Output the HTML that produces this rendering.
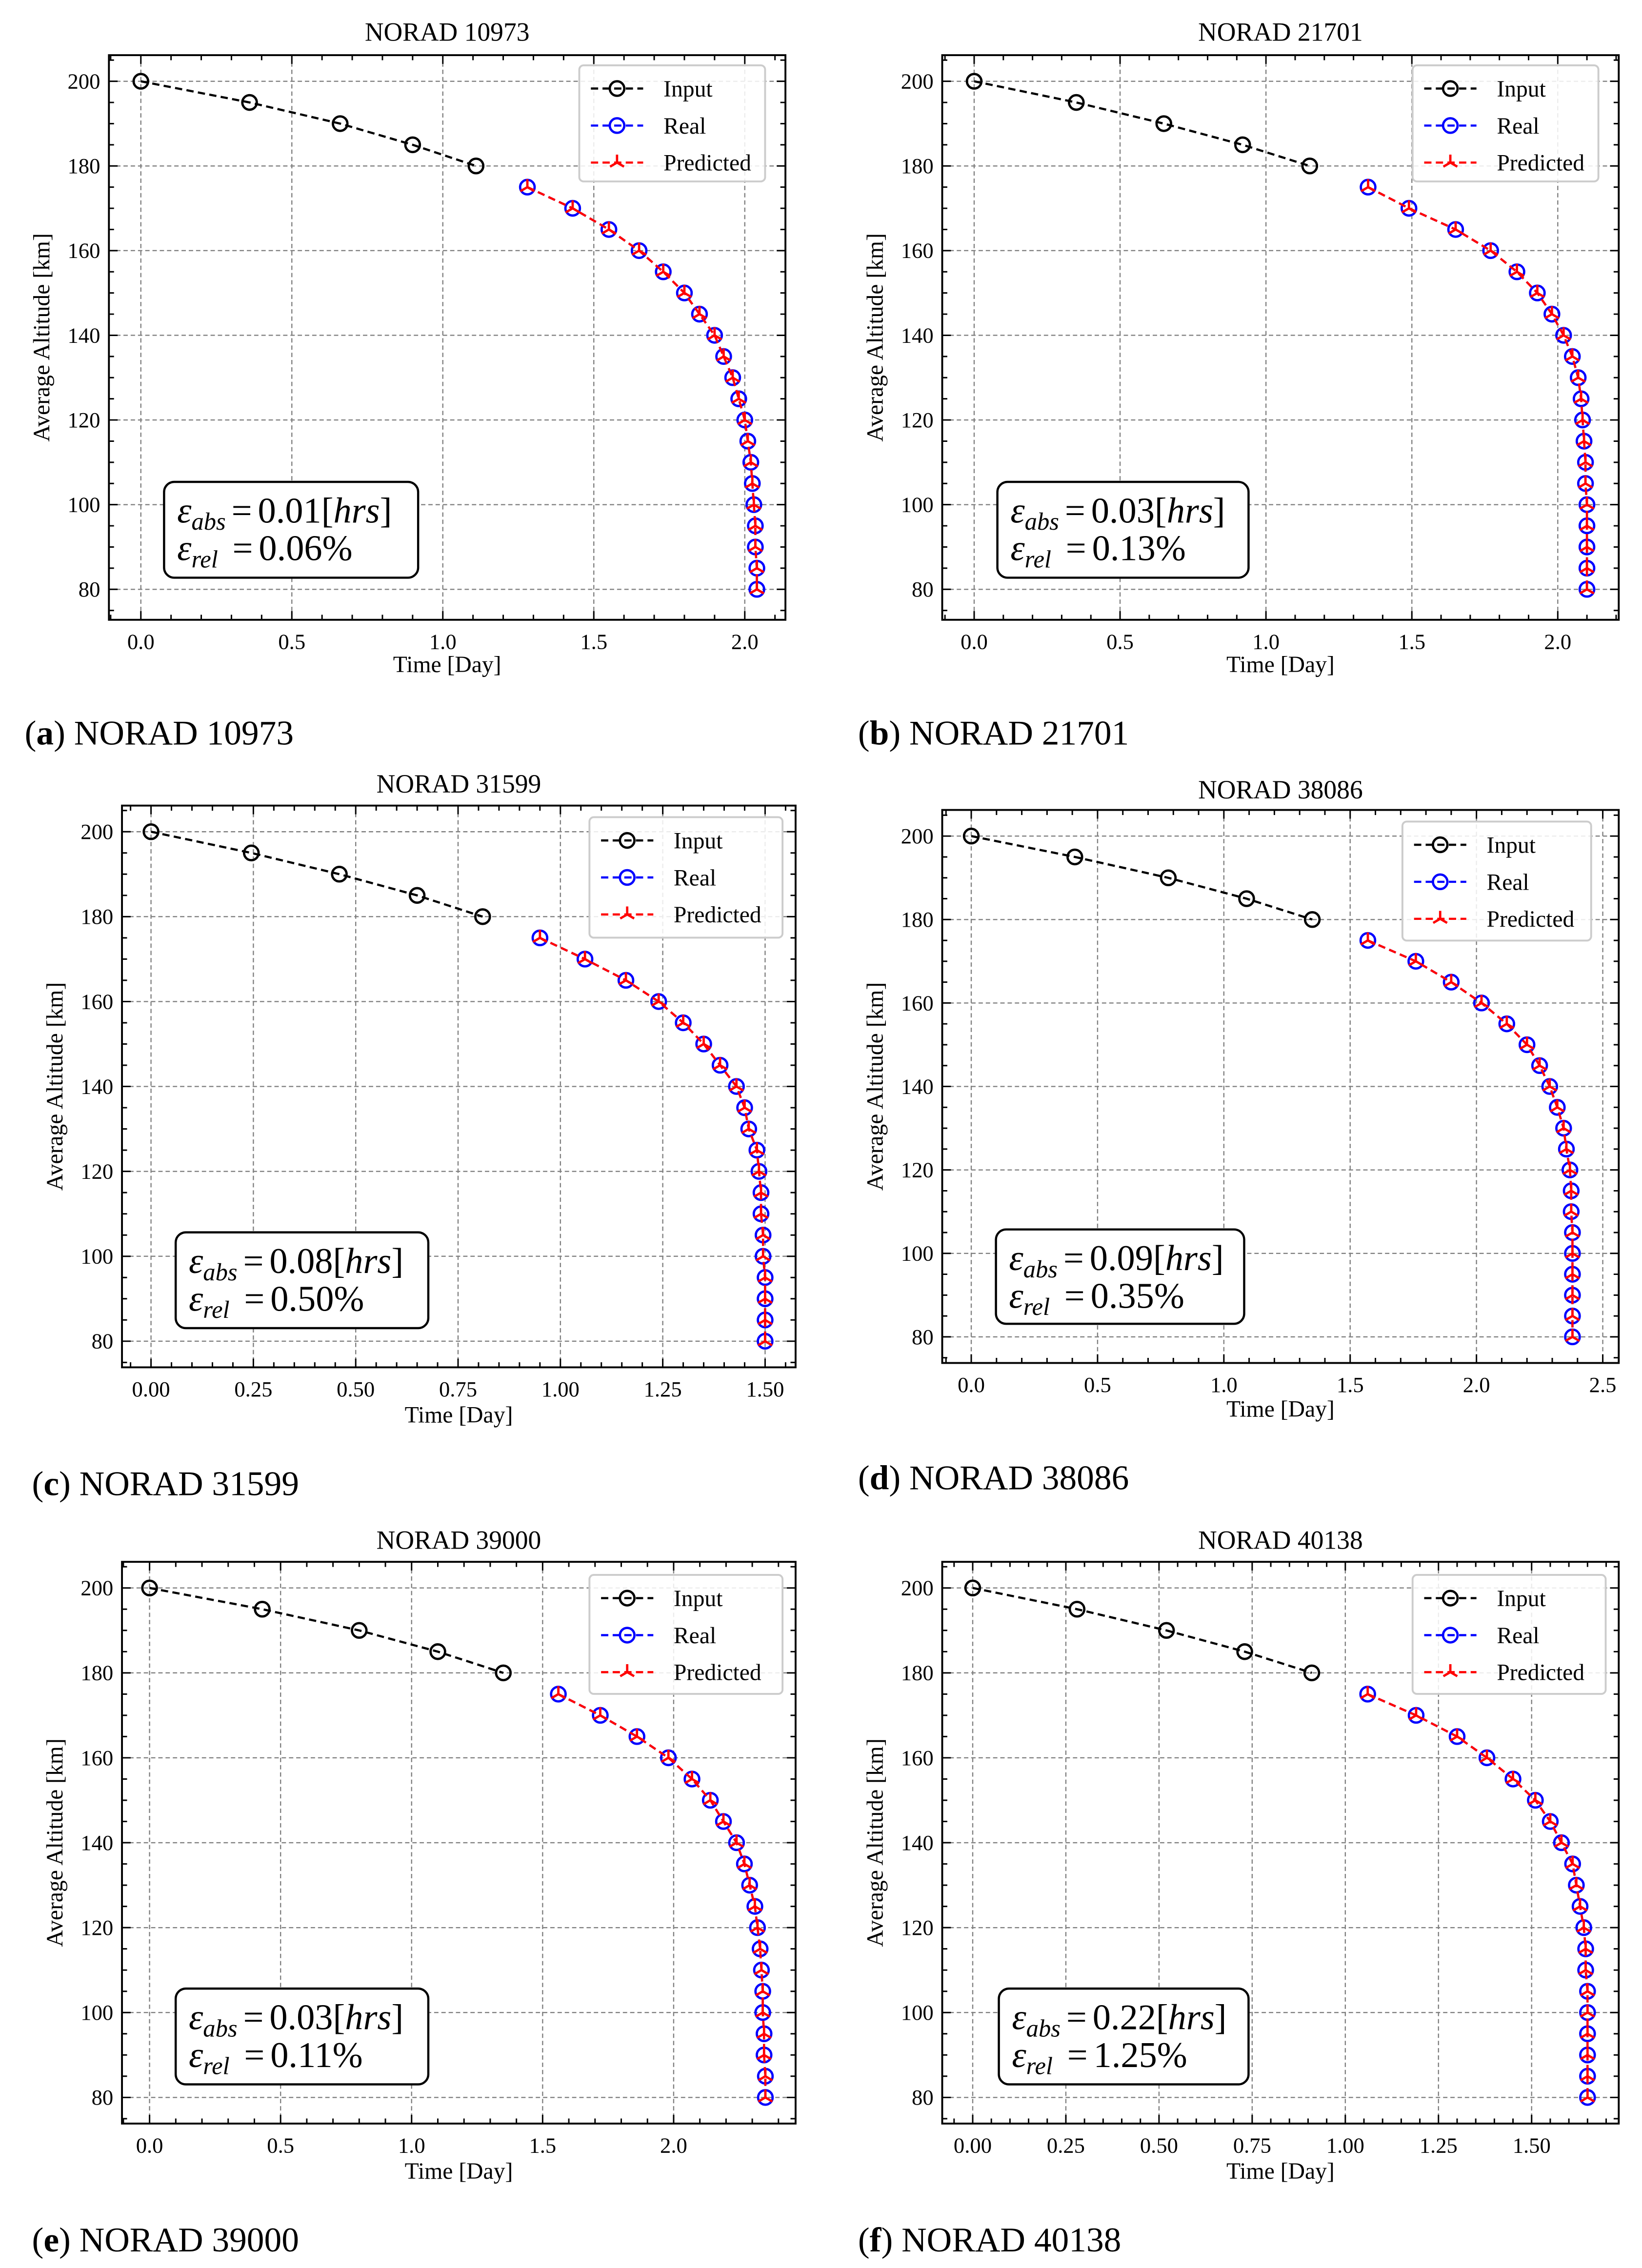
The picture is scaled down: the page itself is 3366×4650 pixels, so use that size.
<!DOCTYPE html>
<html><head><meta charset="utf-8">
<style>
html,body{margin:0;padding:0;background:#fff;}
svg{display:block;font-family:"Liberation Serif",serif;}
svg text{font-family:"Liberation Serif",serif;}
</style></head>
<body>
<svg id="fig" width="3366" height="4650" viewBox="0 0 1131 1562.5" xmlns="http://www.w3.org/2000/svg"></svg>
<script>
// ---- data ----
const inputAlt = [200,195,190,185,180];
const realAlt = [175,170,165,160,155,150,145,140,135,130,125,120,115,110,105,100,95,90,85,80];
const titles = ["NORAD 10973","NORAD 21701","NORAD 31599","NORAD 38086","NORAD 39000","NORAD 40138"];
const captionLetters = ["a","b","c","d","e","f"];
const inputT_a = [0,0.36,0.66,0.90,1.11];
const realT_a = [1.28,1.43,1.55,1.65,1.73,1.80,1.85,1.90,1.93,1.96,1.98,2.00,2.01,2.02,2.025,2.03,2.035,2.035,2.04,2.04];
const inputT_b = [0,0.35,0.65,0.92,1.15];
const realT_b = [1.35,1.49,1.65,1.77,1.86,1.93,1.98,2.02,2.05,2.07,2.08,2.085,2.09,2.095,2.095,2.10,2.10,2.10,2.10,2.10];
const inputT_c = [0,0.245,0.46,0.65,0.81];
const realT_c = [0.95,1.06,1.16,1.24,1.30,1.35,1.39,1.43,1.45,1.46,1.48,1.485,1.49,1.49,1.495,1.495,1.50,1.50,1.50,1.50];
const inputT_d = [0,0.41,0.78,1.09,1.35];
const realT_d = [1.57,1.76,1.90,2.02,2.12,2.20,2.25,2.29,2.32,2.345,2.356,2.37,2.375,2.375,2.38,2.38,2.38,2.38,2.38,2.38];
const inputT_e = [0,0.43,0.80,1.10,1.35];
const realT_e = [1.56,1.72,1.86,1.98,2.07,2.14,2.19,2.24,2.27,2.29,2.31,2.32,2.33,2.335,2.34,2.34,2.345,2.345,2.35,2.35];
const inputT_f = [0,0.28,0.52,0.73,0.91];
const realT_f = [1.06,1.19,1.30,1.38,1.45,1.51,1.55,1.58,1.61,1.62,1.63,1.64,1.645,1.645,1.65,1.65,1.65,1.65,1.65,1.65];
const xTicks_a = [0,0.5,1.0,1.5,2.0];
const xTickLabels_a = ["0.0","0.5","1.0","1.5","2.0"];
const xTicks_c = [0,0.25,0.5,0.75,1.0,1.25,1.5];
const xTickLabels_c = ["0.00","0.25","0.50","0.75","1.00","1.25","1.50"];
const xTicks_d = [0,0.5,1.0,1.5,2.0,2.5];
const xTickLabels_d = ["0.0","0.5","1.0","1.5","2.0","2.5"];
const yTicks = [80,100,120,140,160,180,200];
const errAbs = ["0.01","0.03","0.08","0.09","0.03","0.22"];
const errRel = ["0.06%","0.13%","0.50%","0.35%","0.11%","1.25%"];

// ---- layout (not data) ----
const panels = [
 {L:75,R:541,T:38,B:427,x0px:97,x1px:513,x1v:2.0,y200:56,y80:406,inT:inputT_a,reT:realT_a,xt:xTicks_a,xl:xTickLabels_a,minor:0.1,leg:[399,45,128,80],err:[113,332,175,66],title:22,xlab:458,cap:[17,513]},
 {L:649,R:1115,T:38,B:427,x0px:671,x1px:1073,x1v:2.0,y200:56,y80:406,inT:inputT_b,reT:realT_b,xt:xTicks_a,xl:xTickLabels_a,minor:0.1,leg:[973,45,128,80],err:[687,332,173,66],title:22,xlab:458,cap:[591,513]},
 {L:84,R:548,T:555,B:942,x0px:104,x1px:527,x1v:1.5,y200:573,y80:924,inT:inputT_c,reT:realT_c,xt:xTicks_c,xl:xTickLabels_c,minor:0.05,leg:[406,563,133,83],err:[121,849,174,66],title:540,xlab:975,cap:[22,1030]},
 {L:649,R:1115,T:558,B:939,x0px:669,x1px:1104,x1v:2.5,y200:576,y80:921,inT:inputT_d,reT:realT_d,xt:xTicks_d,xl:xTickLabels_d,minor:0.1,leg:[966,566,130,82],err:[686,847,171,65],title:544,xlab:971,cap:[591,1026]},
 {L:84,R:548,T:1076,B:1463,x0px:103,x1px:464,x1v:2.0,y200:1094,y80:1445,inT:inputT_e,reT:realT_e,xt:xTicks_a,xl:xTickLabels_a,minor:0.1,leg:[406,1085,133,82],err:[121,1370,174,66],title:1061,xlab:1496,cap:[22,1551]},
 {L:649,R:1115,T:1076,B:1463,x0px:670,x1px:1055,x1v:1.5,y200:1094,y80:1445,inT:inputT_f,reT:realT_f,xt:xTicks_c,xl:xTickLabels_c,minor:0.05,leg:[973,1085,133,82],err:[688,1370,172,66],title:1061,xlab:1496,cap:[591,1551]}
];
const NS="http://www.w3.org/2000/svg";
const svg=document.getElementById('fig');
function mk(tag,attrs,parent){const e=document.createElementNS(NS,tag);for(const k in attrs)e.setAttribute(k,attrs[k]);(parent||svg).appendChild(e);return e;}
// place a run of text pieces sequentially using separate <text> elements
function run(parent,x,y,pieces){
  let cx=x;
  pieces.forEach(pc=>{
    const a={x:cx,y:y+(pc.dy||0),'font-size':pc.size};
    if(pc.it)a['font-style']='italic';
    if(pc.b)a['font-weight']='bold';
    const t=mk('text',a,parent);t.textContent=pc.t;
    let w=0;try{w=t.getComputedTextLength();}catch(e){}
    if(!w)w=pc.t.length*pc.size*0.5;
    cx+=w+(pc.gap||0);
  });
}
function circ(g,x,y,c){return mk('circle',{cx:x,cy:y,r:5,fill:'none',stroke:c,'stroke-width':1.6},g);}
function tri(g,x,y){return mk('path',{d:`M${x} ${y}L${x} ${y-5.5}M${x} ${y}L${x-4.8} ${y+2.8}M${x} ${y}L${x+4.8} ${y+2.8}`,stroke:'#f00','stroke-width':1.6,fill:'none'},g);}

panels.forEach((p,i)=>{
  const g=mk('g',{});
  
  
  const sx=v=>p.x0px+(p.x1px-p.x0px)*v/p.x1v;
  const sy=v=>p.y80+(p.y200-p.y80)*(v-80)/120;
  const vmin=(p.L-p.x0px)/(p.x1px-p.x0px)*p.x1v, vmax=(p.R-p.x0px)/(p.x1px-p.x0px)*p.x1v;
  p.xt.forEach(v=>{const l=mk('line',{x1:sx(v),x2:sx(v),y1:p.T,y2:p.B,stroke:'#808080','stroke-width':0.8,'stroke-dasharray':'3,2'},g);});
  yTicks.forEach(v=>{const l=mk('line',{x1:p.L,x2:p.R,y1:sy(v),y2:sy(v),stroke:'#808080','stroke-width':0.8,'stroke-dasharray':'3,2'},g);});
  let tk='';
  for(let v=Math.ceil(vmin/p.minor-1e-6)*p.minor; v<=vmax+1e-9; v+=p.minor){
    const x=sx(v); const major=p.xt.some(t=>Math.abs(t-v)<1e-6); const len=major?6:3.5;
    tk+=`M${x} ${p.B}v${-len}M${x} ${p.T}v${len}`;
  }
  for(let v=75; v<=205; v+=5){
    const y=sy(v); if(y<p.T||y>p.B) continue; const len=(v%20===0)?6:3.5;
    tk+=`M${p.L} ${y}h${len}M${p.R} ${y}h${-len}`;
  }
  const ticks=mk('path',{d:tk,stroke:'#000','stroke-width':1,fill:'none'},g);
  
  p.xt.forEach((v,j)=>{const t=mk('text',{x:sx(v),y:p.B+20,'font-size':15,'text-anchor':'middle'},g);t.textContent=p.xl[j];});
  yTicks.forEach(v=>{const t=mk('text',{x:p.L-6,y:sy(v)+5,'font-size':15,'text-anchor':'end'},g);t.textContent=String(v);});
  const pts=(tt,as)=>tt.map((t,k)=>sx(t)+','+sy(as[k])).join(' ');
  const li=mk('polyline',{points:pts(p.inT,inputAlt),fill:'none',stroke:'#000','stroke-width':1.5,'stroke-dasharray':'5,3'},g);
  
  p.inT.forEach((t,k)=>{const c=circ(g,sx(t),sy(inputAlt[k]),'#000');});
  const lr=mk('polyline',{points:pts(p.reT,realAlt),fill:'none',stroke:'#00f','stroke-width':1.5,'stroke-dasharray':'5,3'},g);
  
  p.reT.forEach((t,k)=>{const c=circ(g,sx(t),sy(realAlt[k]),'#00f');});
  const lp=mk('polyline',{points:pts(p.reT,realAlt),fill:'none',stroke:'#f00','stroke-width':1.5,'stroke-dasharray':'5,3'},g);
  
  p.reT.forEach((t,k)=>{const c=tri(g,sx(t),sy(realAlt[k]));});
  const fr=mk('rect',{x:p.L,y:p.T,width:p.R-p.L,height:p.B-p.T,fill:'none',stroke:'#000','stroke-width':1.3},g);
  
  const [lx,ly,lw,lh]=p.leg;
  const lg=mk('g',{},g);
  mk('rect',{x:lx,y:ly,width:lw,height:lh,rx:3,fill:'#fff','fill-opacity':0.85,stroke:'#ccc','stroke-width':1.3},lg);
  const names=['Input','Real','Predicted'],cols=['#000','#00f','#f00'];
  names.forEach((n,k)=>{
    const yy=ly+16+k*25.5;
    const e=mk('g',{},lg);
    mk('line',{x1:lx+8,x2:lx+44,y1:yy,y2:yy,stroke:cols[k],'stroke-width':1.5,'stroke-dasharray':'5,3'},e);
    if(k<2) circ(e,lx+26,yy,cols[k]); else tri(e,lx+26,yy);
    const t=mk('text',{x:lx+58,y:yy+5.5,'font-size':16},e);t.textContent=n;
  });
  const [ex,ey,ew,eh]=p.err;
  const eg=mk('g',{},g);
  mk('rect',{x:ex,y:ey,width:ew,height:eh,rx:7,fill:'#fff',stroke:'#000','stroke-width':1.5},eg);
  run(eg,ex+9,ey+28,[{t:'ε',it:1,size:25},{t:'abs',it:1,size:17,dy:5,gap:4},{t:'=',size:25,gap:4},{t:errAbs[i]+'[',size:25},{t:'hrs',it:1,size:25},{t:']',size:25}]);
  run(eg,ex+9,ey+54,[{t:'ε',it:1,size:25},{t:'rel',it:1,size:17,dy:5,gap:10},{t:'=',size:25,gap:4},{t:errRel[i],size:25}]);
  const tt=mk('text',{x:(p.L+p.R)/2,y:p.title+6,'font-size':18,'text-anchor':'middle'},g);tt.textContent=titles[i];
  
  const xl=mk('text',{x:(p.L+p.R)/2,y:p.xlab+5,'font-size':16,'text-anchor':'middle'},g);xl.textContent='Time [Day]';
  
  const yx=p.L-41,yc=(p.T+p.B)/2;
  const yl=mk('text',{x:yx,y:yc,'font-size':16,'text-anchor':'middle',transform:`rotate(-90 ${yx} ${yc})`},g);yl.textContent='Average Altitude [km]';
  
  const cg=mk('g',{},g);
  
  run(cg,p.cap[0],p.cap[1],[{t:'(',size:24},{t:captionLetters[i],b:1,size:24},{t:')',size:24,gap:6},{t:titles[i],size:24}]);
});
</script>
</body></html>
